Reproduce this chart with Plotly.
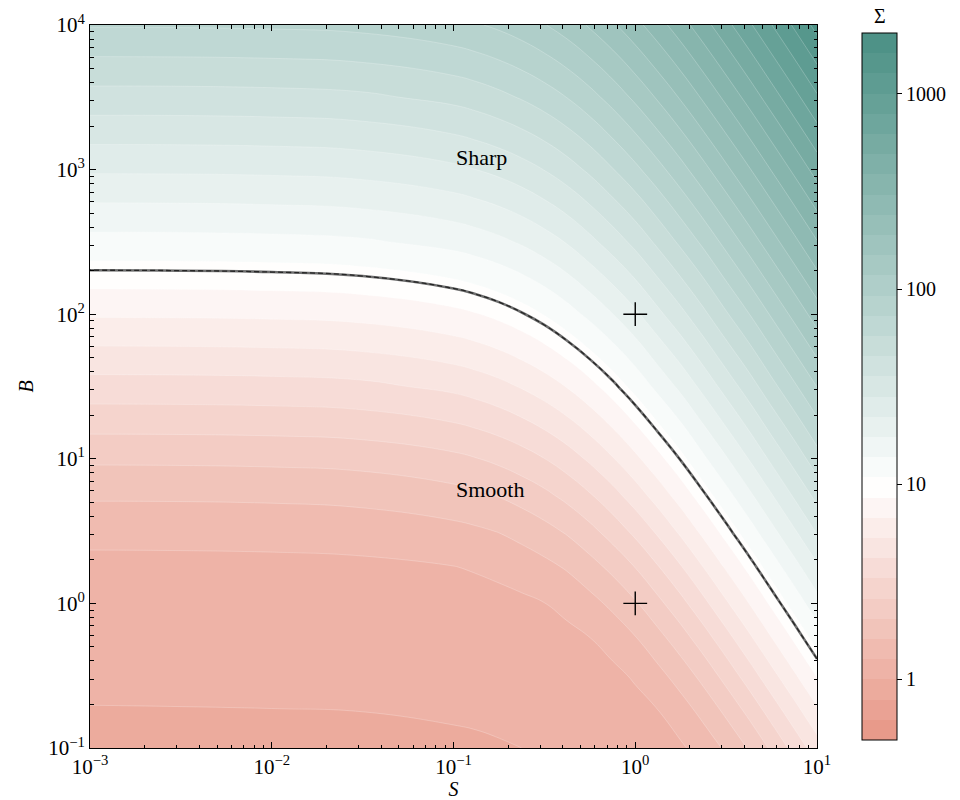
import numpy as np
import plotly.graph_objects as go

# Grid of the control parameters
S_values = [1e-3, 1e-2, 0.0316, 0.1, 0.133, 0.178, 0.237, 0.316, 0.422, 0.562,
            0.750, 1.0, 1.33, 1.78, 2.37, 3.16, 4.22, 5.62, 7.50, 10.0]
B_values = [0.1, 0.178, 0.316, 0.562, 1.0, 1.78, 3.16, 5.62, 10.0,
            31.6, 100.0, 316.0, 1000.0, 3160.0, 10000.0]

# log10(Sigma) on the (B, S) grid: one row per B value, one column per S value
log10_sigma = [
    [-0.012, -0.012, -0.010, -0.007, -0.005, -0.003, 0.000, 0.004, 0.009, 0.015,
     0.023, 0.036, 0.057, 0.089, 0.146, 0.223, 0.319, 0.431, 0.552, 0.677],
    [-0.002, -0.001, 0.000, 0.004, 0.005, 0.008, 0.011, 0.016, 0.021, 0.031,
     0.043, 0.066, 0.099, 0.158, 0.235, 0.330, 0.439, 0.558, 0.682, 0.808],
    [0.009, 0.010, 0.011, 0.016, 0.018, 0.021, 0.025, 0.032, 0.040, 0.057,
     0.078, 0.116, 0.175, 0.251, 0.343, 0.451, 0.567, 0.689, 0.813, 0.938],
    [0.022, 0.023, 0.025, 0.032, 0.035, 0.039, 0.047, 0.059, 0.073, 0.099,
     0.140, 0.197, 0.272, 0.362, 0.465, 0.578, 0.698, 0.820, 0.943, 1.071],
    [0.041, 0.043, 0.047, 0.059, 0.064, 0.072, 0.084, 0.102, 0.132, 0.174,
     0.229, 0.299, 0.386, 0.485, 0.593, 0.710, 0.828, 0.950, 1.076, 1.202],
    [0.075, 0.078, 0.083, 0.101, 0.112, 0.128, 0.150, 0.179, 0.217, 0.271,
     0.336, 0.416, 0.510, 0.613, 0.725, 0.840, 0.958, 1.083, 1.206, 1.329],
    [0.135, 0.139, 0.149, 0.178, 0.192, 0.211, 0.240, 0.277, 0.323, 0.384,
     0.458, 0.543, 0.639, 0.745, 0.855, 0.970, 1.092, 1.213, 1.334, 1.460],
    [0.222, 0.227, 0.239, 0.276, 0.293, 0.317, 0.350, 0.391, 0.444, 0.509,
     0.585, 0.674, 0.771, 0.875, 0.986, 1.104, 1.221, 1.340, 1.464, 1.585],
    [0.329, 0.335, 0.348, 0.390, 0.410, 0.437, 0.472, 0.516, 0.571, 0.638,
     0.717, 0.805, 0.901, 1.006, 1.120, 1.232, 1.349, 1.470, 1.590, 1.715],
    [0.578, 0.584, 0.598, 0.644, 0.666, 0.695, 0.732, 0.777, 0.833, 0.900,
     0.978, 1.067, 1.166, 1.267, 1.376, 1.490, 1.605, 1.726, 1.846, 1.968],
    [0.840, 0.846, 0.860, 0.906, 0.927, 0.956, 0.993, 1.039, 1.097, 1.164,
     1.240, 1.325, 1.423, 1.524, 1.632, 1.747, 1.860, 1.979, 2.100, 2.223],
    [1.103, 1.110, 1.125, 1.170, 1.191, 1.219, 1.254, 1.299, 1.353, 1.421,
     1.497, 1.582, 1.678, 1.781, 1.886, 1.999, 2.115, 2.234, 2.355, 2.478],
    [1.360, 1.366, 1.381, 1.427, 1.449, 1.476, 1.511, 1.555, 1.610, 1.676,
     1.754, 1.838, 1.931, 2.033, 2.141, 2.254, 2.370, 2.489, 2.610, 2.733],
    [1.616, 1.622, 1.637, 1.683, 1.704, 1.733, 1.768, 1.811, 1.865, 1.930,
     2.006, 2.092, 2.186, 2.288, 2.396, 2.509, 2.625, 2.744, 2.865, 2.988],
    [1.871, 1.877, 1.891, 1.936, 1.957, 1.985, 2.020, 2.065, 2.119, 2.185,
     2.261, 2.347, 2.441, 2.543, 2.651, 2.764, 2.880, 2.999, 3.120, 3.243],
]

# Threshold separating the two regimes
sigma_threshold = 10.0

# Reference points
marker_S = [1.0, 1.0]
marker_B = [100.0, 1.0]

# Region labels
region_labels = ["Sharp", "Smooth"]
region_label_S = [0.1, 0.1]
region_label_B = [1220.0, 6.1]

# Colorbar ticks
cbar_tick_values = [1, 10, 100, 1000]
cbar_tick_text = ["1", "10", "100", "1000"]

# Axis ticks
x_tick_values = [1e-3, 1e-2, 1e-1, 1e0, 1e1]
x_tick_text = ["10<sup>\u22123</sup>", "10<sup>\u22122</sup>", "10<sup>\u22121</sup>",
               "10<sup>0</sup>", "10<sup>1</sup>"]
y_tick_values = [1e-1, 1e0, 1e1, 1e2, 1e3, 1e4]
y_tick_text = ["10<sup>\u22121</sup>", "10<sup>0</sup>", "10<sup>1</sup>",
               "10<sup>2</sup>", "10<sup>3</sup>", "10<sup>4</sup>"]

FONT = "Liberation Serif, Times New Roman, serif"

# Contour levels: uniform in log10(Sigma)
step = 0.1035
k_lo, k_hi = -3, 32          # colour range in units of `step`
level_start = k_lo * step
level_end = k_hi * step

# Diverging colour map: salmon -> white (at Sigma = 10) -> teal
pink = np.array([232, 154, 138])
white = np.array([255, 255, 255])
teal = np.array([78, 146, 135])
anchors_z = [(k_lo + 0.5) * step, np.log10(sigma_threshold), (k_hi - 0.5) * step]
anchors_c = [pink, white, teal]


def cmap(zv):
    if zv <= anchors_z[1]:
        f = np.clip((zv - anchors_z[0]) / (anchors_z[1] - anchors_z[0]), 0, 1)
        c = anchors_c[0] + f * (anchors_c[1] - anchors_c[0])
    else:
        f = np.clip((zv - anchors_z[1]) / (anchors_z[2] - anchors_z[1]), 0, 1)
        c = anchors_c[1] + f * (anchors_c[2] - anchors_c[1])
    return "rgb({:.0f},{:.0f},{:.0f})".format(*c)


# Continuous scale for the filled contours (plotly spans start - step/2 .. end + step/2)
lo = level_start - step / 2
hi = level_end + step / 2
zs = np.linspace(lo, hi, 73)
contour_scale = [[float((v - lo) / (hi - lo)), cmap(v)] for v in zs]

# Stepped scale for the colour bar: one flat colour per band
n_bands = k_hi - k_lo
bar_scale = []
for i in range(n_bands):
    c = cmap((k_lo + i + 0.5) * step)
    bar_scale.append([i / n_bands, c])
    bar_scale.append([(i + 1) / n_bands, c])

z = np.array(log10_sigma)

fig = go.Figure()

fig.add_trace(go.Contour(
    x=S_values, y=B_values, z=z,
    colorscale=contour_scale,
    autocontour=False,
    contours=dict(start=level_start, end=level_end, size=step,
                  coloring="fill", showlines=True),
    line=dict(color="rgba(255,255,255,0.45)", width=0.5, smoothing=1.3),
    showscale=False,
    hoverinfo="skip",
))

# Sigma = 10 boundary: solid grey line with a dashed dark line on top
for color, width, dash in [("#6f6f6f", 2.6, "solid"), ("#262626", 1.3, "5px,3px")]:
    fig.add_trace(go.Contour(
        x=S_values, y=B_values, z=z,
        autocontour=False,
        contours=dict(start=np.log10(sigma_threshold), end=np.log10(sigma_threshold),
                      size=1, coloring="none"),
        line=dict(color=color, width=width, dash=dash, smoothing=1.3),
        showscale=False,
        hoverinfo="skip",
    ))

fig.add_trace(go.Scatter(
    x=marker_S, y=marker_B, mode="markers",
    marker=dict(symbol="cross-thin", size=17, line=dict(color="black", width=1.4)),
    showlegend=False, hoverinfo="skip",
))

# Colour bar for Sigma
fig.add_trace(go.Scatter(
    x=[None], y=[None], mode="markers",
    marker=dict(
        color=[0.0], colorscale=bar_scale, cmin=level_start, cmax=level_end,
        showscale=True,
        colorbar=dict(
            x=(862 - 90) / 727, xanchor="left", xpad=0,
            y=0.5, yanchor="middle", ypad=0,
            len=707 / 723, lenmode="fraction",
            thickness=35, thicknessmode="pixels",
            outlinecolor="black", outlinewidth=1,
            tickmode="array",
            tickvals=[float(np.log10(v)) for v in cbar_tick_values],
            ticktext=cbar_tick_text,
            ticks="outside", ticklen=5, tickwidth=1, tickcolor="black",
            tickfont=dict(family=FONT, size=20, color="black"),
        ),
    ),
    showlegend=False, hoverinfo="skip",
))

for text, sx, by in zip(region_labels, region_label_S, region_label_B):
    fig.add_annotation(
        x=np.log10(sx), y=np.log10(by), xref="x", yref="y",
        text=text, showarrow=False, xanchor="left", yanchor="middle",
        font=dict(family=FONT, size=22, color="black"),
    )

# Colour bar title
fig.add_annotation(
    x=(879.5 - 90) / 727, y=1 + (25 - 16) / 723, xref="paper", yref="paper",
    text="\u03a3", showarrow=False, xanchor="center", yanchor="middle",
    font=dict(family=FONT, size=20, color="black"),
)

axis_common = dict(
    type="log",
    automargin=False,
    showgrid=False, zeroline=False,
    showline=True, linecolor="black", linewidth=1, mirror="allticks",
    ticks="inside", ticklen=6, tickwidth=1, tickcolor="black",
    tickmode="array",
    tickfont=dict(family=FONT, size=21, color="black"),
    minor=dict(ticks="inside", ticklen=3.5, tickwidth=0.8, tickcolor="black", dtick="D1"),
)

fig.update_xaxes(
    **axis_common,
    range=[-3, 1],
    tickvals=x_tick_values, ticktext=x_tick_text,
    title=dict(text="<i>S</i>", font=dict(family=FONT, size=20, color="black"), standoff=9),
)
fig.update_yaxes(
    **axis_common,
    range=[-1, 4],
    tickvals=y_tick_values, ticktext=y_tick_text,
    title=dict(text="<i>B</i>", font=dict(family=FONT, size=20, color="black"), standoff=9),
)

fig.update_layout(
    width=960, height=800,
    margin=dict(l=90, r=143, t=25, b=52, autoexpand=False),
    paper_bgcolor="white", plot_bgcolor="white",
    showlegend=False,
    font=dict(family=FONT, color="black"),
)

fig.write_html("out.html")
